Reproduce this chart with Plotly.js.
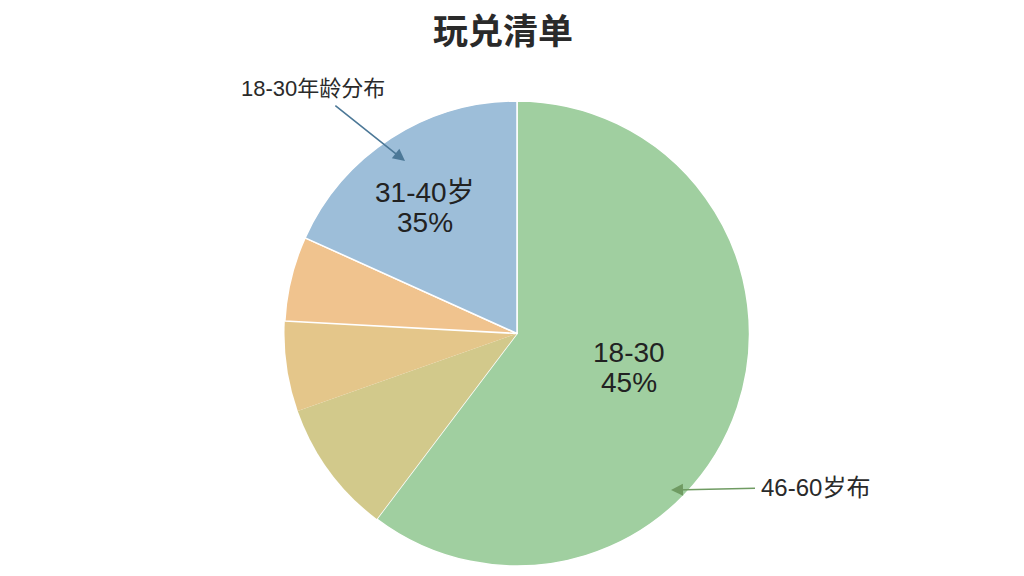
<!DOCTYPE html>
<html><head><meta charset="utf-8">
<script src="https://cdn.plot.ly/plotly-3.0.1.min.js"></script>
<style>html,body{margin:0;padding:0;background:#fff}#chart{width:1024px;height:576px}</style>
</head><body><div id="chart"></div>
<script>
const categories = ["46-60岁", "段2", "段3", "段4", "31-40岁"];
const values = [60.3, 9.3, 6.25, 5.9, 18.25];
const sliceColors = ["#A0CFA0", "#D2C98B", "#E4C68A", "#F0C38E", "#9DBED9"];
const lineWidths = [1.5, 0, 0, 1.5, 1.5];
const insideLabels = [
  {line1: "18-30", line2: "45%", x: 629, y1: 352, y2: 382},
  {line1: "31-40岁", line2: "35%", x: 425, y1: 192, y2: 222}
];
const calloutTexts = ["18-30年龄分布", "46-60岁布"];
const titleText = "玩兑清单";

const W = 1024, H = 576;
const M = { l: 10, r: 0, t: 101, b: 10 };
const px = x => (x - M.l) / (W - M.l - M.r);
const py = y => 1 - (y - M.t) / (H - M.t - M.b);

const trace = {
  type: "pie",
  labels: categories,
  values: values,
  sort: false,
  direction: "clockwise",
  rotation: 0,
  textinfo: "none",
  hoverinfo: "label+percent",
  marker: { colors: sliceColors, line: { color: "#ffffff", width: lineWidths } },
  showlegend: false,
  domain: { x: [0, 1], y: [0, 1] }
};

const cjk = "'Noto Sans CJK SC', sans-serif";
const latin = "'Liberation Sans', 'Noto Sans CJK SC', sans-serif";
const annotations = [];
insideLabels.forEach(l => {
  [[l.line1, l.y1], [l.line2, l.y2]].forEach(([t, y]) => {
    annotations.push({
      xref: "paper", yref: "paper", x: px(l.x), y: py(y),
      xanchor: "center", yanchor: "middle",
      text: t, showarrow: false,
      font: { family: latin, size: 28, color: "#222" }
    });
  });
});
annotations.push({
  xref: "paper", yref: "paper", x: px(405), y: py(161),
  ax: (313 - 405), ay: (88 - 161),
  axref: "pixel", ayref: "pixel",
  text: calloutTexts[0], showarrow: true, arrowhead: 2, arrowsize: 1.5, arrowwidth: 1.6,
  arrowcolor: "#4C7897", standoff: 0, startstandoff: 6,
  font: { family: latin, size: 22, color: "#2a2a2a" }
});
annotations.push({
  xref: "paper", yref: "paper", x: px(671), y: py(490),
  ax: (815 - 671), ay: (487 - 490),
  axref: "pixel", ayref: "pixel",
  text: calloutTexts[1], showarrow: true, arrowhead: 2, arrowsize: 1.5, arrowwidth: 1.6,
  arrowcolor: "#6F9B62", standoff: 0, startstandoff: 4,
  font: { family: latin, size: 24, color: "#2a2a2a" }
});

const layout = {
  width: W, height: H,
  margin: M,
  paper_bgcolor: "#ffffff",
  title: { text: "<b>" + titleText + "</b>", x: 503 / W, xanchor: "center", xref: "container",
           y: 1 - 32 / H, yanchor: "middle", yref: "container",
           font: { family: cjk, size: 35, color: "#2a2a2a" } },
  annotations: annotations
};

Plotly.newPlot("chart", [trace], layout, { displayModeBar: false, staticPlot: true });
</script></body></html>
